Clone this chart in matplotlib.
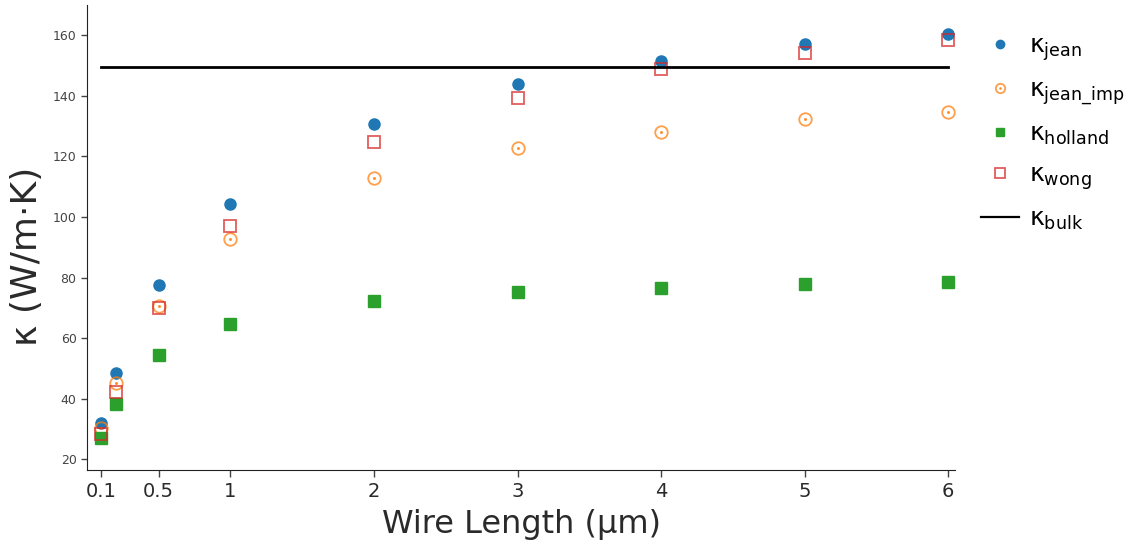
import matplotlib
matplotlib.use("Agg")
import matplotlib.pyplot as plt
from matplotlib.legend_handler import HandlerTuple

# wire lengths (um) and conductivity estimates (W/m-K)
length = [0.1, 0.2, 0.5, 1, 2, 3, 4, 5, 6]
k_jean = [32.1, 48.6, 77.6, 104.2, 130.7, 143.9, 151.5, 157.0, 160.3]
k_jean_imp = [30.4, 45.0, 70.5, 92.8, 112.8, 122.9, 128.0, 132.2, 134.5]
k_holland = [26.9, 38.3, 54.3, 64.5, 72.1, 75.2, 76.4, 77.9, 78.6]
k_wong = [28.2, 42.3, 70.0, 97.0, 124.9, 139.4, 148.7, 154.2, 158.6]
k_bulk = 149.4

xticks = [0.1, 0.5, 1, 2, 3, 4, 5, 6]
xtick_labels = ["0.1", "0.5", "1", "2", "3", "4", "5", "6"]
yticks = [20, 40, 60, 80, 100, 120, 140, 160]

plt.rcParams['font.family'] = ['DejaVu Sans']

fig = plt.figure(figsize=(11.44, 5.54), dpi=100)
ax = fig.add_axes([0.076, 0.152, 0.759, 0.839])

h_jean, = ax.plot(length, k_jean, 'o', color='#1f77b4', ms=8, mec='#1f77b4', ls='none')
h_imp, = ax.plot(length, k_jean_imp, 'o', mfc='none', mec='#ff7f0e', mew=1.3, ms=9,
                 alpha=0.75, ls='none')
h_dot, = ax.plot(length, k_jean_imp, '.', color='#ff7f0e', ms=2.5, alpha=0.75, ls='none')
h_hol, = ax.plot(length, k_holland, 's', color='#2ca02c', ms=8.5, ls='none')
h_wong, = ax.plot(length, k_wong, 's', mfc='none', mec='#d62728', mew=1.3, ms=9,
                  alpha=0.75, ls='none')
h_bulk, = ax.plot([length[0], length[-1]], [k_bulk, k_bulk], color='black', lw=2)

ax.set_xlim(0, 6.05)
ax.set_ylim(16.5, 170)
ax.set_xticks(xticks)
ax.set_xticklabels(xtick_labels)
ax.set_yticks(yticks)
ax.tick_params(axis='x', labelsize=14, length=5, width=1, colors='#444444', labelcolor='#2a2a2a')
ax.tick_params(axis='y', labelsize=9, length=4, width=1, colors='#444444', labelcolor='#444444')
for side in ['top', 'right']:
    ax.spines[side].set_visible(False)
for side in ['left', 'bottom']:
    ax.spines[side].set_color('#222222')

ax.set_xlabel("Wire Length (µm)", fontsize=23, color='#2a2a2a', labelpad=6)
ax.set_ylabel("κ (W/m·K)", fontsize=26, color='#2a2a2a', labelpad=4)
ax.yaxis.set_label_coords(-0.05, 0.46)

labels = ['κ$_{\\mathregular{jean}}$', 'κ$_{\\mathregular{jean\\_imp}}$',
          'κ$_{\\mathregular{holland}}$', 'κ$_{\\mathregular{wong}}$',
          'κ$_{\\mathregular{bulk}}$']
leg = fig.legend([h_jean, (h_imp, h_dot), h_hol, h_wong, h_bulk], labels,
                 handler_map={tuple: HandlerTuple(ndivide=1, pad=0)},
                 loc='upper left', bbox_to_anchor=(0.838, 0.98), frameon=False,
                 fontsize=18, handlelength=1.5, labelspacing=0.6, handletextpad=0.4,
                 markerscale=0.75)
for line in leg.get_lines():
    if line.get_linestyle() == '-':
        line.set_linewidth(1.6)

fig.savefig("out.png", dpi=100)
